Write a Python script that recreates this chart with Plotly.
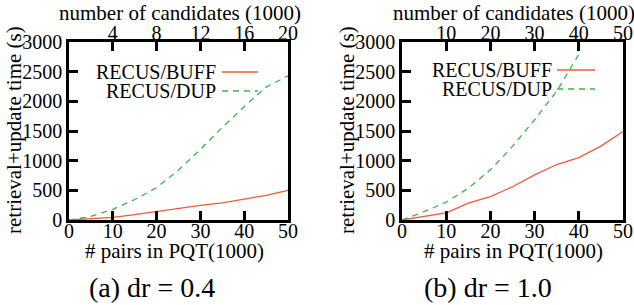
import plotly.graph_objects as go

# ---- data ----
pairs = [0, 5, 10, 15, 20, 25, 30, 35, 40, 45, 50]
a_buff = [0, 20, 45, 90, 145, 200, 245, 290, 350, 415, 500]
a_dup = [0, 60, 180, 345, 545, 840, 1190, 1560, 1910, 2240, 2430]

pairs_b_dup = [0, 5, 10, 15, 20, 25, 30, 35, 40]
b_buff = [0, 60, 120, 285, 395, 560, 760, 935, 1050, 1245, 1490]
b_dup = [0, 140, 300, 535, 845, 1240, 1690, 2170, 2790]

y_ticks = [0, 500, 1000, 1500, 2000, 2500, 3000]
x_ticks = [0, 10, 20, 30, 40, 50]
top_a_ticks = [4, 8, 12, 16, 20]
top_b_ticks = [10, 20, 30, 40, 50]

series_names = ["RECUS/BUFF", "RECUS/DUP"]
captions = ["(a) dr = 0.4", "(b) dr = 1.0"]

RED = "#f05a3a"
GREEN = "#3cb44b"
FONT = "Liberation Serif"
W, H = 634, 305

def px(x):
    return x / W

def py(y):
    return 1 - y / H

doms = [(69, 288), (402, 623)]
ydom = [py(220), py(42)]

fig = go.Figure()
fig.add_trace(go.Scatter(x=pairs, y=a_buff, mode="lines", line=dict(color=RED, width=1.3),
                         xaxis="x", yaxis="y", showlegend=False))
fig.add_trace(go.Scatter(x=pairs, y=a_dup, mode="lines", line=dict(color=GREEN, width=1.3, dash="6px,5px"),
                         xaxis="x", yaxis="y", showlegend=False))
fig.add_trace(go.Scatter(x=pairs, y=b_buff, mode="lines", line=dict(color=RED, width=1.3),
                         xaxis="x2", yaxis="y2", showlegend=False))
fig.add_trace(go.Scatter(x=pairs_b_dup, y=b_dup, mode="lines", line=dict(color=GREEN, width=1.3, dash="6px,5px"),
                         xaxis="x2", yaxis="y2", showlegend=False))

tickfont = dict(family=FONT, size=20, color="black")
common_ax = dict(showgrid=False, zeroline=False, showline=True, linecolor="black", linewidth=2.5,
                 mirror=True, ticks="inside", ticklen=9, tickwidth=2.5, tickcolor="black",
                 tickfont=tickfont, automargin=False)
top_ax = dict(showgrid=False, zeroline=False, ticks="inside", ticklen=9, tickwidth=2.5,
              tickcolor="black", tickfont=tickfont, automargin=False, ticklabelstandoff=-3)

lay = dict(
    width=W, height=H, margin=dict(l=0, r=0, t=0, b=0, autoexpand=False),
    paper_bgcolor="white", plot_bgcolor="white",
    xaxis=dict(domain=[px(doms[0][0]), px(doms[0][1])], range=[0, 50], tickvals=x_ticks,
               anchor="y", ticklabelstandoff=-9, **common_ax),
    yaxis=dict(domain=ydom, range=[0, 3000], tickvals=y_ticks, anchor="x", **common_ax),
    xaxis2=dict(domain=[px(doms[1][0]), px(doms[1][1])], range=[0, 50], tickvals=x_ticks,
                anchor="y2", ticklabelstandoff=-9, **common_ax),
    yaxis2=dict(domain=ydom, range=[0, 3000], tickvals=y_ticks, anchor="x2", **common_ax),
    xaxis3=dict(overlaying="x", side="top", range=[0, 20], tickvals=top_a_ticks, anchor="y", **top_ax),
    xaxis4=dict(overlaying="x2", side="top", range=[0, 50], tickvals=top_b_ticks, anchor="y2", **top_ax),
)
fig.update_layout(**lay)
# empty traces to activate the top axes
fig.add_trace(go.Scatter(x=[None], y=[None], xaxis="x3", yaxis="y", showlegend=False))
fig.add_trace(go.Scatter(x=[None], y=[None], xaxis="x4", yaxis="y2", showlegend=False))

annots = []
shapes = []
tfont = dict(family=FONT, size=21, color="black")
topfont = dict(family=FONT, size=21, color="black")
yfont = dict(family=FONT, size=21, color="black")
lfont = dict(family=FONT, size=20, color="black")
ytitle_x = [14, 347]
xtitle_cx = [174, 513]
toptitle_cx = [180, 514]
caption_cx = [152, 488]
legend_text_right = [218, 554]
legend_line = [(222, 258), (557, 595)]
legend_y = [(72, 91), (70, 89)]
for i in range(2):
    annots.append(dict(text="retrieval+update time (s)", x=px(ytitle_x[i]), y=py(130), xref="paper",
                       yref="paper", textangle=-90, showarrow=False, font=yfont,
                       xanchor="center", yanchor="middle"))
    annots.append(dict(text="# pairs in PQT(1000)", x=px(xtitle_cx[i]), y=py(251), xref="paper",
                       yref="paper", showarrow=False, font=tfont, xanchor="center", yanchor="middle"))
    annots.append(dict(text="number of candidates (1000)", x=px(toptitle_cx[i]), y=py(13), xref="paper",
                       yref="paper", showarrow=False, font=topfont, xanchor="center", yanchor="middle"))
    annots.append(dict(text=captions[i], x=px(caption_cx[i]), y=py(287), xref="paper",
                       yref="paper", showarrow=False, font=dict(family=FONT, size=28, color="black"),
                       xanchor="center", yanchor="middle"))
    for j, (name, col, dash) in enumerate(zip(series_names, [RED, GREEN], ["solid", "6px,5px"])):
        annots.append(dict(text=name, x=px(legend_text_right[i]), y=py(legend_y[i][j]), xref="paper",
                           yref="paper", showarrow=False, font=lfont, xanchor="right", yanchor="middle"))
        shapes.append(dict(type="line", xref="paper", yref="paper",
                           x0=px(legend_line[i][0]), x1=px(legend_line[i][1]),
                           y0=py(legend_y[i][j]), y1=py(legend_y[i][j]),
                           line=dict(color=col, width=1.3, dash=dash)))
fig.update_layout(annotations=annots, shapes=shapes)
fig.write_html("out.html", config={"displayModeBar": False},
               post_script="document.body.style.margin='0';")
